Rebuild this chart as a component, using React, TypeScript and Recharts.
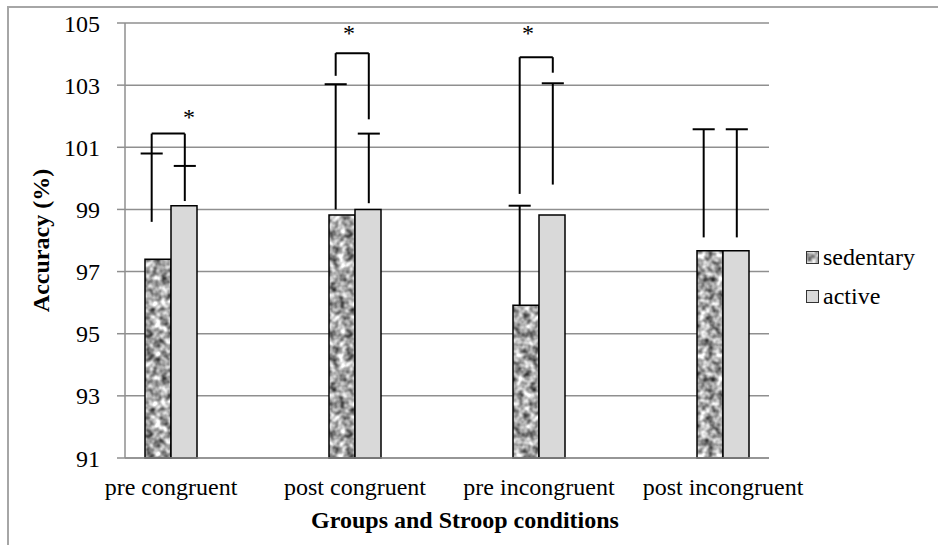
import React from "react";
import {
  BarChart,
  Bar,
  XAxis,
  YAxis,
  CartesianGrid,
  ReferenceLine,
  ReferenceDot,
  Legend,
} from "recharts";

const categories = ["pre congruent", "post congruent", "pre incongruent", "post incongruent"];
const sedentary = [97.4, 98.82, 95.92, 97.67];
const active = [99.12, 99.0, 98.82, 97.67];

// error bars as drawn in the source figure (vertical line + cap on top)
const sedentaryErrLow = [98.6, 99.0, 95.92, 98.1];
const sedentaryErrHigh = [100.8, 103.03, 99.12, 101.58];
const activeErrLow = [99.27, 99.2, 99.8, 98.1];
const activeErrHigh = [100.4, 101.44, 103.06, 101.58];

// significance brackets
const bracketCats = [0, 1, 2];
const bracketTop = [101.44, 104.03, 103.9];
const bracketLeftLow = [100.8, 103.3, 99.5];
const bracketRightLow = [100.4, 101.9, 103.4];
const starY = [102.1, 104.78, 104.78];

const yTicks = [91, 93, 95, 97, 99, 101, 103, 105];

const seriesNames = ["sedentary", "active"];
const seriesFills = ["url(#granite)", "#d9d9d9"];

const FONT = "'Liberation Serif', 'Times New Roman', serif";
const GRID = "#8f8f8f";
const SED_DX = -0.105;
const ACT_DX = 0.075;
const CAP = 0.06;
const STAR_DX = [18, -6, -11];

const data = categories.map((name, i) => ({
  idx: i,
  name,
  sedentary: sedentary[i],
  active: active[i],
}));

const seg = (key: string, x1: number, y1: number, x2: number, y2: number) => (
  <ReferenceLine
    key={key}
    segment={[
      { x: x1, y: y1 },
      { x: x2, y: y2 },
    ]}
    stroke="#000"
    strokeWidth={2}
    ifOverflow="visible"
  />
);

const errorLines = categories.flatMap((_, i) => {
  const xs = i + SED_DX;
  const xa = i + ACT_DX;
  return [
    seg(`se${i}`, xs, sedentaryErrLow[i], xs, sedentaryErrHigh[i]),
    seg(`sc${i}`, xs - CAP, sedentaryErrHigh[i], xs + CAP, sedentaryErrHigh[i]),
    seg(`ae${i}`, xa, activeErrLow[i], xa, activeErrHigh[i]),
    seg(`ac${i}`, xa - CAP, activeErrHigh[i], xa + CAP, activeErrHigh[i]),
  ];
});

const brackets = bracketCats.flatMap((c, i) => {
  const xl = c + SED_DX;
  const xr = c + ACT_DX;
  return [
    seg(`bl${i}`, xl, bracketLeftLow[i], xl, bracketTop[i]),
    seg(`bt${i}`, xl, bracketTop[i], xr, bracketTop[i]),
    seg(`br${i}`, xr, bracketTop[i], xr, bracketRightLow[i]),
  ];
});

const stars = bracketCats.map((c, i) => (
  <ReferenceDot
    key={`st${i}`}
    x={c}
    y={starY[i]}
    r={0}
    ifOverflow="visible"
    label={{
      value: "*",
      position: "center",
      dx: STAR_DX[i],
      dy: 3,
      fontSize: 24,
      fill: "#000",
      fontFamily: FONT,
    }}
  />
));

// fixed order (recharts 3 sorts legend items by name otherwise)
const renderLegend = () => (
  <div style={{ fontFamily: FONT, fontSize: 24, color: "#000" }}>
    {seriesNames.map((name, i) => (
      <div
        key={name}
        style={{ display: "flex", alignItems: "center", height: 24, marginBottom: 15, lineHeight: "24px" }}
      >
        <svg width={13} height={13} style={{ marginRight: 4 }}>
          <rect x={0.5} y={0.5} width={12} height={12} fill={seriesFills[i]} stroke="#333" strokeWidth={1} />
        </svg>
        <span>{name}</span>
      </div>
    ))}
  </div>
);

export default function App() {
  return (
    <div
      style={{
        position: "absolute",
        left: 0,
        top: 0,
        width: 938,
        height: 545,
        overflow: "hidden",
        background: "#fff",
      }}
    >
      <svg width={0} height={0} style={{ position: "absolute" }}>
        <defs>
          <filter id="noise" x="0" y="0" width="100%" height="100%" colorInterpolationFilters="sRGB">
            <feTurbulence type="fractalNoise" baseFrequency="0.13" numOctaves={2} seed={7} stitchTiles="stitch" />
            <feColorMatrix
              type="matrix"
              values="1.5 0 0 0 -0.1  1.5 0 0 0 -0.1  1.5 0 0 0 -0.1  0 0 0 0 1"
            />
          </filter>
          <pattern id="granite" patternUnits="userSpaceOnUse" width={100} height={100}>
            <rect width={100} height={100} fill="#999" filter="url(#noise)" />
          </pattern>
        </defs>
      </svg>
      <div
        style={{
          position: "absolute",
          left: 7,
          top: 6,
          width: 1000,
          height: 1000,
          border: "2px solid #a6a6a6",
        }}
      />
      <BarChart
        width={938}
        height={545}
        data={data}
        margin={{ top: 23, right: 169, bottom: 27, left: 65 }}
        barGap={0}
        style={{ position: "absolute", left: 0, top: 0 }}
      >
        <CartesianGrid vertical={false} stroke={GRID} strokeWidth={1.5} />
        <XAxis
          dataKey="idx"
          type="number"
          domain={[-0.25, 3.25]}
          ticks={[0, 1, 2, 3]}
          interval={0}
          tickFormatter={(v: number) => categories[v] ?? ""}
          height={60}
          tickLine={false}
          tickSize={0}
          tickMargin={20}
          axisLine={{ stroke: GRID, strokeWidth: 1.5 }}
          tick={{ fontSize: 24, fill: "#000", fontFamily: FONT }}
          label={{
            value: "Groups and Stroop conditions",
            position: "insideBottom",
            offset: -10,
            dx: 18,
            fontSize: 24,
            fontWeight: "bold",
            fill: "#000",
            fontFamily: FONT,
          }}
        />
        <YAxis
          type="number"
          domain={[91, 105]}
          ticks={yTicks}
          interval={0}
          width={60}
          tickSize={8}
          tickMargin={17}
          tickLine={{ stroke: GRID, strokeWidth: 1.5 }}
          axisLine={{ stroke: GRID, strokeWidth: 1.5 }}
          tick={{ fontSize: 24, fill: "#000", fontFamily: FONT }}
          label={{
            value: "Accuracy (%)",
            angle: -90,
            position: "center",
            dx: -55,
            fontSize: 24,
            fontWeight: "bold",
            fill: "#000",
            fontFamily: FONT,
          }}
        />
        <Legend
          layout="vertical"
          align="center"
          verticalAlign="middle"
          content={renderLegend}
          wrapperStyle={{ left: 806, top: 245, width: 130 }}
        />
        <Bar
          dataKey="sedentary"
          name="sedentary"
          fill={seriesFills[0]}
          stroke="#000"
          strokeWidth={1.5}
          barSize={26}
          isAnimationActive={false}
        />
        <Bar
          dataKey="active"
          name="active"
          fill={seriesFills[1]}
          stroke="#000"
          strokeWidth={1.5}
          barSize={26}
          isAnimationActive={false}
        />
        {errorLines}
        {brackets}
        {stars}
      </BarChart>
    </div>
  );
}
